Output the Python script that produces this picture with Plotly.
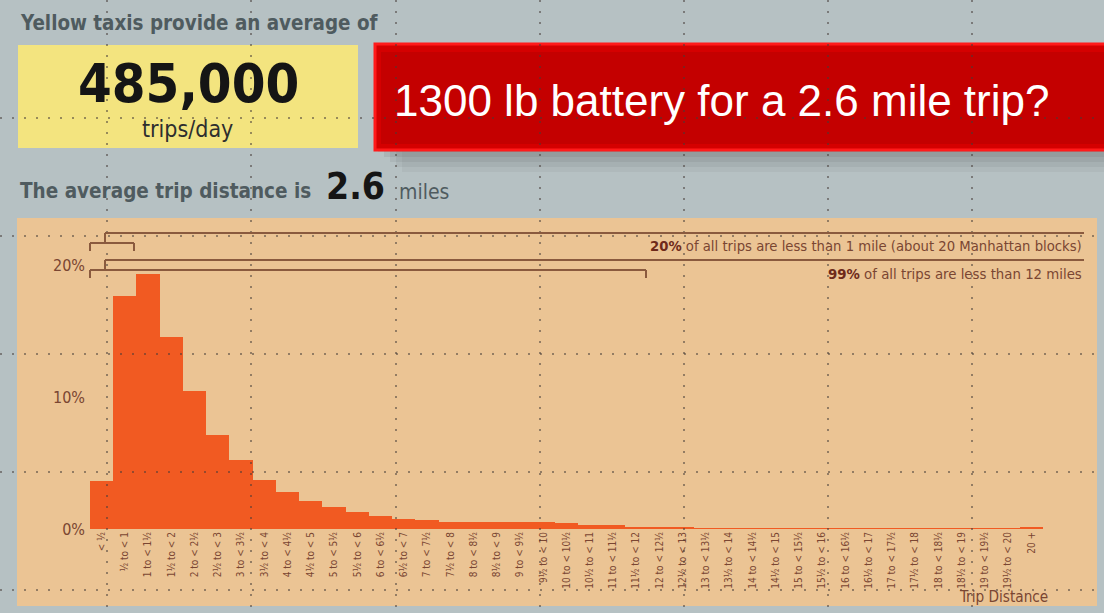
import plotly.graph_objects as go

# ---------------- data ----------------
categories = ["< ½", "½ to < 1", "1 to < 1½", "1½ to < 2", "2 to < 2½", "2½ to < 3",
              "3 to < 3½", "3½ to < 4", "4 to < 4½", "4½ to < 5", "5 to < 5½", "5½ to < 6",
              "6 to < 6½", "6½ to < 7", "7 to < 7½", "7½ to < 8", "8 to < 8½", "8½ to < 9",
              "9 to < 9½", "9½ to < 10", "10 to < 10½", "10½ to < 11", "11 to < 11½",
              "11½ to < 12", "12 to < 12½", "12½ to < 13", "13 to < 13½", "13½ to < 14",
              "14 to < 14½", "14½ to < 15", "15 to < 15½", "15½ to < 16", "16 to < 16½",
              "16½ to < 17", "17 to < 17½", "17½ to < 18", "18 to < 18½", "18½ to < 19",
              "19 to < 19½", "19½ to < 20", "20 +"]
share_pct = [3.6, 17.65, 19.35, 14.55, 10.45, 7.15, 5.25, 3.75, 2.8, 2.1, 1.67, 1.26,
             1.0, 0.78, 0.65, 0.55, 0.5, 0.5, 0.5, 0.5, 0.48, 0.33, 0.3, 0.15, 0.13, 0.08,
             0.07, 0.06, 0.05, 0.05, 0.05, 0.05, 0.05, 0.05, 0.05, 0.05, 0.05, 0.05, 0.05,
             0.05, 0.08]
y_tick_vals = [0, 10, 20]
y_tick_text = ["0%", "10%", "20%"]

headline_number = "485,000"
avg_distance = "2.6"

# ---------------- layout geometry ----------------
W, H = 1104, 613
L, R, T, B = 90, 61, 219, 84
PW, PH = W - L - R, H - T - B


def px(x):
    return (x - L) / PW


def py(y):
    return (H - B - y) / PH


NARROW = "DejaVu Sans Condensed, Liberation Sans Narrow, sans-serif"
BROWN = "#7a4632"
BG = "#b6c1c3"
PANEL = "#ebc494"
BAR = "#f15a22"

fig = go.Figure()
fig.add_trace(go.Bar(
    x=categories, y=share_pct,
    marker=dict(color=BAR, line=dict(width=0)),
    hoverinfo="skip",
))

shapes = []
# orange panel
shapes.append(dict(type="rect", xref="paper", yref="paper", x0=px(17), x1=px(1097),
                   y0=py(606), y1=py(218), fillcolor=PANEL, line=dict(width=0), layer="below"))
# yellow box
shapes.append(dict(type="rect", xref="paper", yref="paper", x0=px(18), x1=px(358),
                   y0=py(148), y1=py(45), fillcolor="#f3e47f", line=dict(width=0), layer="below"))
# red banner shadow
for i, a in enumerate([0.09, 0.09, 0.08, 0.07, 0.06]):
    shapes.append(dict(type="rect", xref="paper", yref="paper", x0=px(378 + 6 * i), x1=px(1110),
                       y0=py(152 + 5 * i), y1=py(60), fillcolor=f"rgba(60,60,60,{a})",
                       line=dict(width=0), layer="below"))
# red banner
shapes.append(dict(type="rect", xref="paper", yref="paper", x0=px(375), x1=px(1110),
                   y0=py(150), y1=py(44), fillcolor="#d40000",
                   line=dict(width=3, color="#ff1a1a"), layer="below"))
shapes.append(dict(type="rect", xref="paper", yref="paper", x0=px(381), x1=px(1110),
                   y0=py(144), y1=py(52), fillcolor="#c40000",
                   line=dict(width=0), layer="below"))

# dotted guide lines
DOT = "rgba(70,60,55,0.7)"
for gx in [107, 251, 396, 540, 684, 828, 972]:
    shapes.append(dict(type="line", xref="paper", yref="paper", x0=px(gx), x1=px(gx),
                       y0=py(0), y1=py(613), line=dict(color=DOT, width=1.5, dash="2px,9px"),
                       layer="above"))
for gy in [118, 236, 354, 472, 590]:
    shapes.append(dict(type="line", xref="paper", yref="paper", x0=px(0), x1=px(1104),
                       y0=py(gy), y1=py(gy), line=dict(color=DOT, width=1.5, dash="2px,10px"),
                       layer="above"))

# brackets
LN = dict(color="#8a5a3e", width=2)


def seg(x0, y0, x1, y1):
    shapes.append(dict(type="line", xref="paper", yref="paper", x0=px(x0), x1=px(x1),
                       y0=py(y0), y1=py(y1), line=LN, layer="above"))


seg(105, 233, 1084, 233)
seg(105, 233, 105, 242)
seg(90, 243, 134, 243)
seg(90, 243, 90, 251)
seg(134, 243, 134, 251)
seg(105, 260, 1084, 260)
seg(105, 260, 105, 269)
seg(90, 270, 646, 270)
seg(90, 270, 90, 278)
seg(646, 270, 646, 278)

annotations = [
    dict(text="<b>Yellow taxis provide an average of</b>", x=px(18), y=py(23), xanchor="left",
         yanchor="middle", font=dict(family=NARROW, size=20.4, color="#4f5b5f")),
    dict(text=f"<b>{headline_number}</b>", x=px(188), y=py(84), xanchor="center", yanchor="middle",
         font=dict(family=NARROW, size=54, color="#151515")),
    dict(text="trips/day", x=px(187), y=py(129), xanchor="center", yanchor="middle",
         font=dict(family=NARROW, size=23, color="#2e2e2e")),
    dict(text="1300 lb battery for a 2.6 mile trip?", x=px(392), y=py(100), xanchor="left",
         yanchor="middle", font=dict(family="Liberation Sans, Arial, sans-serif", size=44, color="white")),
    dict(text="<b>The average trip distance is</b>", x=px(18), y=py(191), xanchor="left",
         yanchor="middle", font=dict(family=NARROW, size=20.5, color="#4f5b5f")),
    dict(text=f"<b>{avg_distance}</b>", x=px(324), y=py(186), xanchor="left", yanchor="middle",
         font=dict(family=NARROW, size=37, color="#151515")),
    dict(text="miles", x=px(397), y=py(192), xanchor="left", yanchor="middle",
         font=dict(family=NARROW, size=21, color="#4f5b5f")),
    dict(text="<b><span style='color:#6e2a1a'>20%</span></b> of all trips are less than 1 mile (about 20 Manhattan blocks)",
         x=px(1084), y=py(245), xanchor="right", yanchor="middle",
         font=dict(family=NARROW, size=14.7, color=BROWN)),
    dict(text="<b><span style='color:#6e2a1a'>99%</span></b> of all trips are less than 12 miles",
         x=px(1084), y=py(273), xanchor="right", yanchor="middle",
         font=dict(family=NARROW, size=14.8, color=BROWN)),
    dict(text="Trip Distance", x=px(1050), y=py(597), xanchor="right", yanchor="middle",
         font=dict(family=NARROW, size=15.2, color=BROWN)),
]
for a in annotations:
    a.update(xref="paper", yref="paper", showarrow=False)

fig.update_layout(
    width=W, height=H,
    margin=dict(l=L, r=R, t=T, b=B, pad=0),
    paper_bgcolor=BG,
    plot_bgcolor="rgba(0,0,0,0)",
    bargap=0,
    showlegend=False,
    shapes=shapes,
    annotations=annotations,
    xaxis=dict(type="category", range=[-0.5, len(categories) - 0.5], tickangle=-90,
               showgrid=False, zeroline=False, showline=False, ticks="",
               tickfont=dict(family=NARROW, size=10, color=BROWN), automargin=False),
    yaxis=dict(range=[0, PH / 13.2], tickvals=y_tick_vals, ticktext=y_tick_text,
               showgrid=False, zeroline=False, showline=False, ticks="",
               tickfont=dict(family=NARROW, size=16, color=BROWN), automargin=False,
               ticklabelstandoff=4),
)

fig.write_html("out.html", config={"displayModeBar": False},
               post_script="document.body.style.margin='0px';document.body.style.overflow='hidden';")
